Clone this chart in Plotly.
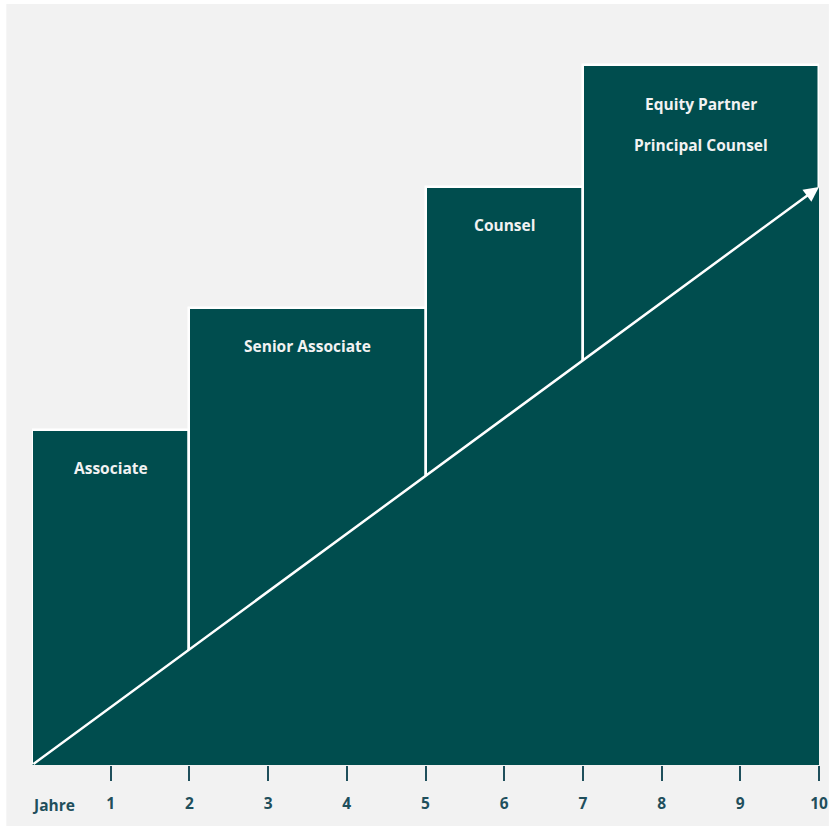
import plotly.graph_objects as go

# ---- data ----
stage_names = ["Associate", "Senior Associate", "Counsel", "Equity Partner"]
second_line = ["", "", "", "Principal Counsel"]
start_years = [0, 2, 5, 7]
end_years = [2, 5, 7, 10]
levels = [5.8, 7.9, 10.0, 12.1]
arrow_x = [0, 10]
arrow_y = [0, 10]
tick_years = [1, 2, 3, 4, 5, 6, 7, 8, 9, 10]
tick_labels = ["1", "2", "3", "4", "5", "6", "7", "8", "9", "10"]
axis_title = "Jahre"

DARK = "#004d4e"
TEXT_LIGHT = "#f2f2f2"
TICK_COL = "#1f4f5c"
BG = "#f2f2f2"

W, H = 838, 829
L, R, T, B = 32, 10, 25, 64
PW, PH = W - L - R, H - T - B

centers = [(s + e) / 2 for s, e in zip(start_years, end_years)]
widths = [e - s for s, e in zip(start_years, end_years)]

fig = go.Figure()

fig.add_trace(go.Bar(
    x=centers, y=levels, width=widths,
    marker=dict(color=DARK, line=dict(color="white", width=2.5)),
    hoverinfo="skip", showlegend=False,
))

# area below arrow (no gaps)
fig.add_trace(go.Scatter(
    x=[arrow_x[0], arrow_x[1], arrow_x[1], arrow_x[0]],
    y=[arrow_y[0], arrow_y[0], arrow_y[1], arrow_y[0]],
    fill="toself", fillcolor=DARK, mode="lines", line=dict(width=0, color=DARK),
    hoverinfo="skip", showlegend=False,
))

FS = 15.5
annotations = []
for c, lvl, n1, n2 in zip(centers, levels, stage_names, second_line):
    annotations.append(dict(x=c, y=lvl - 0.66, xref="x", yref="y", text=n1,
                            showarrow=False,
                            font=dict(family="Open Sans", size=FS, color=TEXT_LIGHT, weight="bold")))
    if n2:
        annotations.append(dict(x=c, y=lvl - 1.38, xref="x", yref="y", text=n2,
                                showarrow=False,
                                font=dict(family="Open Sans", size=FS, color=TEXT_LIGHT, weight="bold")))

# arrow
annotations.append(dict(x=arrow_x[1], y=arrow_y[1], ax=arrow_x[0], ay=arrow_y[0],
                        xref="x", yref="y", axref="x", ayref="y", text="",
                        showarrow=True, arrowhead=2, arrowsize=1.2, arrowwidth=2.5,
                        arrowcolor="white", standoff=0, startstandoff=0))

annotations.append(dict(x=0.27, y=-40 / PH, xref="x", yref="paper", text=axis_title,
                        showarrow=False, yanchor="middle",
                        font=dict(family="Open Sans", size=FS, color=TICK_COL, weight="bold")))

fig.update_layout(
    width=W, height=H,
    margin=dict(l=L, r=R, t=T, b=B),
    paper_bgcolor="white", plot_bgcolor=BG,
    bargap=0,
    annotations=annotations,
    shapes=[dict(type="rect", xref="paper", yref="paper",
                 x0=(6 - L) / PW, x1=(W - L) / PW,
                 y0=-(826 - (T + PH)) / PH, y1=(PH + T - 4) / PH,
                 fillcolor=BG, line=dict(width=0), layer="below")],
    xaxis=dict(range=[0, 10], tickvals=tick_years, ticktext=tick_labels,
               ticks="outside", ticklen=15, tickwidth=1.5, tickcolor=TICK_COL,
               showgrid=False, zeroline=False, showline=False,
               ticklabelstandoff=9,
               tickfont=dict(family="Open Sans", size=FS, color=TICK_COL, weight="bold")),
    yaxis=dict(range=[0, 12.8], visible=False, showgrid=False, zeroline=False),
)

fig.write_html(
    "out.html",
    config={"displayModeBar": False},
    post_script="document.body.style.margin='0';document.body.style.overflow='hidden';"
                "document.documentElement.style.overflow='hidden';",
)
